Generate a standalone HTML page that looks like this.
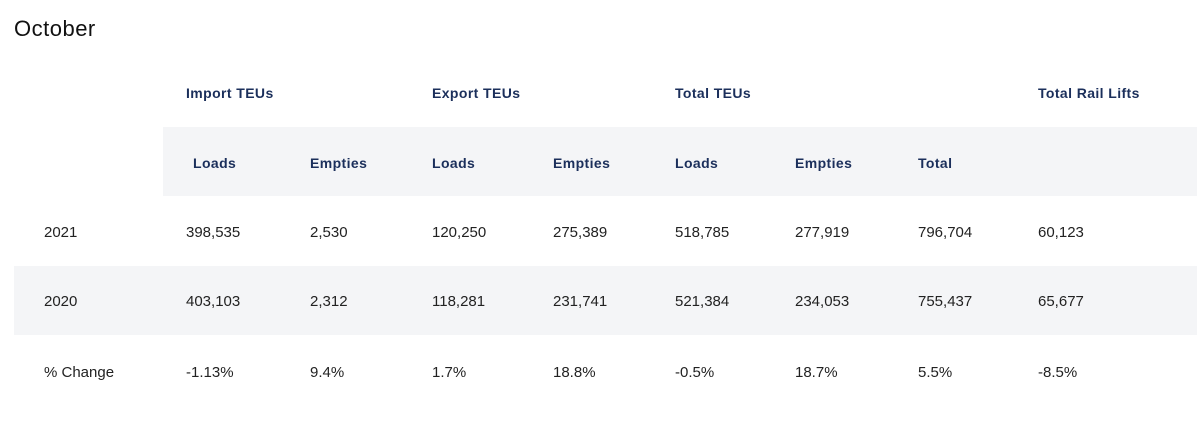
<!DOCTYPE html>
<html><head><meta charset="utf-8"><style>
body{margin:0;width:1200px;height:434px;background:#fff;font-family:"Liberation Sans",sans-serif;position:relative;overflow:hidden}
.t{position:absolute;white-space:nowrap}
h1{position:absolute;left:14px;top:16px;margin:0;font-size:22px;font-weight:normal;color:#111;letter-spacing:0.5px}
.g{font-size:14px;font-weight:bold;color:#1b2f5b;letter-spacing:0.4px}
.c{font-size:15px;color:#222}
.band{position:absolute;background:#f4f5f7}
</style></head><body>
<h1>October</h1>
<div class="band" style="left:163px;top:127px;width:1034px;height:69px"></div>
<div class="band" style="left:14px;top:266px;width:1183px;height:69px"></div>
<div id="root"></div>
<script>
const groups=[["Import TEUs",186],["Export TEUs",432],["Total TEUs",675],["Total Rail Lifts",1038]];
const subs=[["Loads",193],["Empties",310],["Loads",432],["Empties",553],["Loads",675],["Empties",795],["Total",918]];
const cols=[44,186,310,432,553,675,795,918,1038];
const rows=[
["2021","398,535","2,530","120,250","275,389","518,785","277,919","796,704","60,123"],
["2020","403,103","2,312","118,281","231,741","521,384","234,053","755,437","65,677"],
["% Change","-1.13%","9.4%","1.7%","18.8%","-0.5%","18.7%","5.5%","-8.5%"]];
const rowY=[224,293,364];
const root=document.getElementById('root');
function add(txt,x,y,cls,name){const d=document.createElement('div');d.className='t '+cls;d.textContent=txt;d.style.left=x+'px';d.style.top=y+'px';


root.appendChild(d);}
groups.forEach(g=>add(g[0],g[1],85,'g','group-header'));
subs.forEach(s=>add(s[0],s[1],155,'g','column-header'));
rows.forEach((r,i)=>r.forEach((v,j)=>add(v,cols[j],rowY[i],'c','table-cell')));
</script>
</body></html>
